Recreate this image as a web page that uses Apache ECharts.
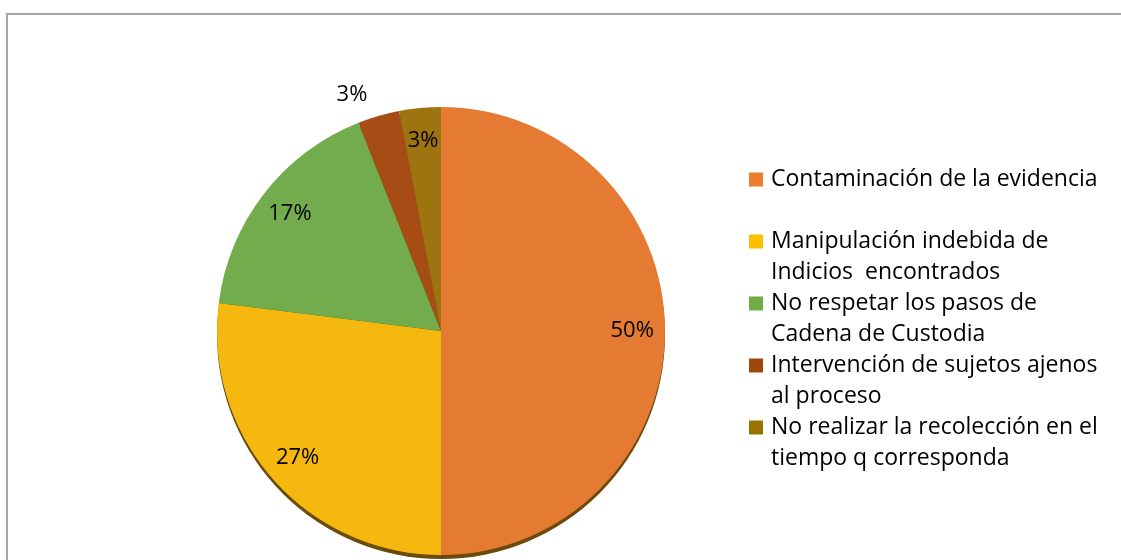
<!DOCTYPE html>
<html>
<head>
<meta charset="utf-8">
<script src="https://cdn.jsdelivr.net/npm/echarts@6/dist/echarts.min.js"></script>
<style>
html,body{margin:0;padding:0;background:#fff;}
#frame{position:absolute;left:6px;top:13px;width:1200px;height:600px;border-left:2px solid #a6a6a6;border-top:2px solid #a6a6a6;}
#chart{position:absolute;left:0;top:0;width:1121px;height:560px;}
</style>
</head>
<body>
<div id="frame"></div>
<div id="chart"></div>
<script>
const categories = [
  'Contaminación de la evidencia',
  'Manipulación indebida de\nIndicios  encontrados',
  'No respetar los pasos de\nCadena de Custodia',
  'Intervención de sujetos ajenos\nal proceso',
  'No realizar la recolección en el\ntiempo q corresponda'
];
const values = [50, 27, 17, 3, 3];
const colors = ['#E57A32', '#F4B80E', '#72AC4C', '#A84C16', '#9E7411'];
const legendColors = ['#ED7D31', '#FFC000', '#70AD47', '#9E480E', '#997300'];

const font = '"Open Sans", Lato, sans-serif';
const chart = echarts.init(document.getElementById('chart'));
const CX = 441, CY = 331, R = 224;

const mainData = categories.map((n, i) => ({
  name: n, value: values[i],
  itemStyle: { color: colors[i] },
  label: i === 3 ? { show: true, position: 'outside' } : { show: false }
}));
const labelData = categories.map((n, i) => ({
  name: n, value: values[i],
  itemStyle: { color: 'rgba(0,0,0,0)' },
  label: { show: i !== 3 }
}));

chart.setOption({
  animation: false,
  legend: {
    orient: 'vertical',
    left: 749,
    top: 164,
    padding: 0,
    itemGap: 0,
    itemWidth: 17,
    itemHeight: 62,
    icon: 'path://M0,0L0,0M0,8.5L14,8.5L14,22.5L0,22.5ZM17,62L17,62',
    data: categories.map((n, i) => ({ name: n, itemStyle: { color: legendColors[i] } })),
    formatter: n => n.indexOf('\n') >= 0 ? n : n + '\n ',
    textStyle: { fontFamily: font, fontSize: 23, lineHeight: 31, color: '#000' },
    selectedMode: false
  },
  series: [
    {
      type: 'pie', silent: true, center: [CX, CY + 4], radius: R,
      data: [{ value: 1, name: '_shadow', itemStyle: { color: '#6b4a0a' } }],
      label: { show: false }, labelLine: { show: false }, z: 1
    },
    {
      type: 'pie', center: [CX, CY], radius: R, startAngle: 90, clockwise: true,
      data: mainData, z: 2,
      label: { fontFamily: font, fontSize: 22, color: '#000', formatter: '{c}%' },
      labelLine: { show: false, length: 22, length2: 0 }
    },
    {
      type: 'pie', silent: true, center: [CX, CY], radius: R * 1.68, startAngle: 90, clockwise: true,
      data: labelData, z: 3,
      label: { position: 'inside', fontFamily: font, fontSize: 22, color: '#000', formatter: '{c}%' },
      labelLine: { show: false }
    }
  ]
});
</script>
</body>
</html>
